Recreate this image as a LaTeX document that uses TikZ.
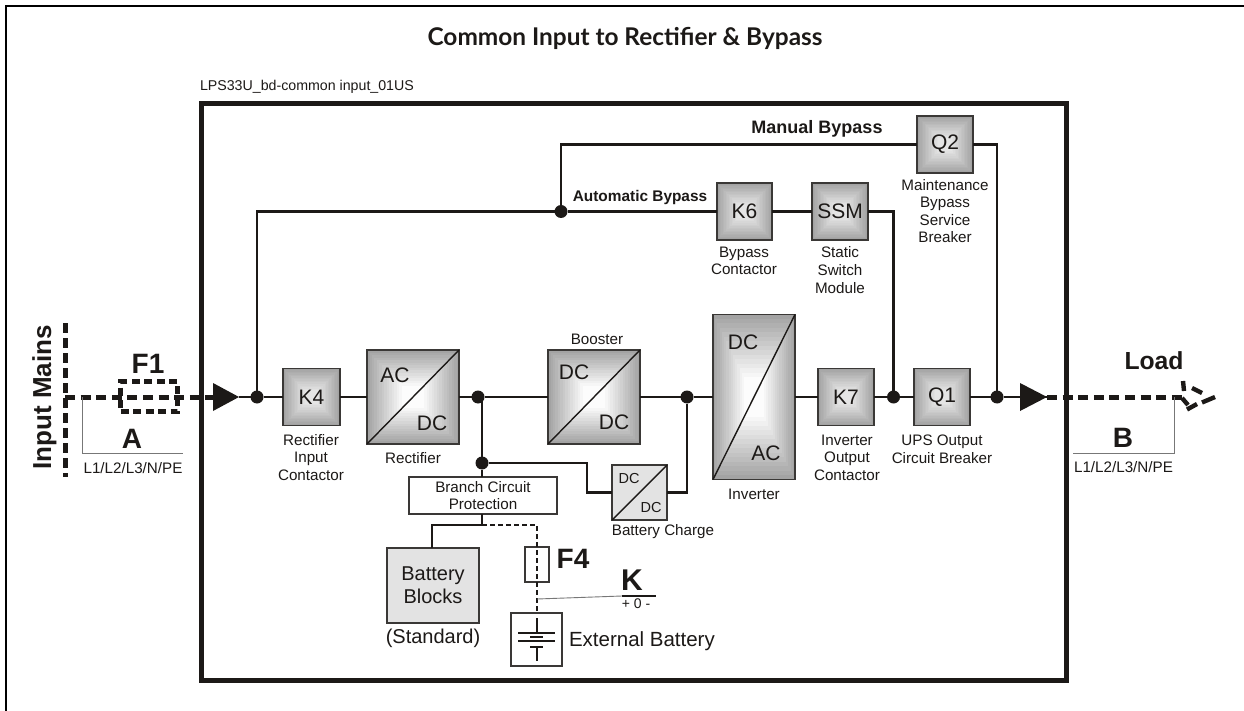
\documentclass[tikz,border=0pt]{standalone}
\usepackage{fontspec}
\setmainfont{Liberation Sans}
\newfontfamily\titlefont{Lato}
\usetikzlibrary{calc}
\definecolor{ink}{HTML}{1C1917}
\definecolor{edge}{HTML}{3A3836}
\definecolor{thin}{HTML}{777777}
\definecolor{gout}{gray}{0.64}
\definecolor{ginsoft}{gray}{0.90}
\definecolor{ginbright}{gray}{0.99}
\definecolor{plain}{gray}{0.89}
\newcommand{\fs}[2]{\fontsize{#1}{#2}\selectfont}
\tikzset{
  x=1pt, y=-1pt,
  every node/.style={text=ink, inner sep=0pt, outer sep=0pt},
  wire/.style={draw=ink, line width=2.7pt},
  heavy/.style={draw=ink, line width=5pt},
  heavydash/.style={draw=ink, line width=5pt, dash pattern=on 10pt off 5.6pt},
  feeddash/.style={draw=ink, line width=2.7pt, dash pattern=on 5pt off 3pt},
  thinline/.style={draw=thin, line width=0.9pt},
  jdot/.style={circle, fill=ink, minimum size=13pt},
  note/.style={align=center, font=\fs{15.2}{17.6}},
  boldlab/.style={font=\bfseries\fs{28}{30}},
  lines/.style={font=\fs{15.2}{17.6}},
  conv/.style={font=\fs{21}{24}},
  grad/.style n args={3}{draw=edge, line width=1.1pt, minimum width=#1, minimum height=#2,
    path picture={
      \foreach \gi in {0,...,14}{
        \pgfmathsetmacro\gf{\gi*0.38/14}
        \pgfmathsetmacro\gt{\gi*100/14}
        \fill[#3!\gt!gout]
          ($(path picture bounding box.south west)!\gf!(path picture bounding box.north east)$)
          rectangle
          ($(path picture bounding box.north east)!\gf!(path picture bounding box.south west)$);
      }
    }},
  flatbox/.style={draw=edge, line width=1.2pt, fill=white},
  pale/.style={draw=edge, line width=1.2pt, fill=plain},
}
\begin{document}
\begin{tikzpicture}
\useasboundingbox (0,0) rectangle (1244,711);
\fill[white] (0,0) rectangle (1244,711);

% outer frame: top and left only
\coordinate (fa) at (6,711);
\coordinate (fb) at (6,6);
\coordinate (fc) at (1244,6);
\draw[black, line width=2pt] (fa) -- (fb) -- (fc);

\node (title) at (625,38) {\titlefont\bfseries\fs{24.4}{27}Common Input to Rectifier \& Bypass};
\node[anchor=west, font=\fs{14.2}{16}] (code) at (200,87) {LPS33U\_bd-common input\_01US};

% cabinet
\node[draw=ink, line width=5pt, minimum width=864.5pt, minimum height=576pt] (cab) at (633.75,392) {};

% wire-level named points
\coordinate (tipL) at (239,397);
\coordinate (tipR) at (1047,397);
\node[jdot] (d1) at (257,397) {};
\node[jdot] (d2) at (478,397) {};
\node[jdot] (d3) at (482,463) {};
\node[jdot] (d4) at (687,397) {};
\node[jdot] (d5) at (893.5,397) {};
\node[jdot] (d6) at (997,397) {};
\node[jdot] (d7) at (561,211.5) {};

% blocks
\node[grad={57pt}{57pt}{ginsoft}, font=\fs{21}{24}] (k4) at (311.5,397) {K4};
\node[grad={92pt}{94pt}{ginbright}] (rect) at (413,397) {};
\node[grad={92pt}{94pt}{ginbright}] (boost) at (594,397) {};
\node[grad={82pt}{165pt}{ginbright}] (inv) at (754,397) {};
\node[grad={56pt}{57pt}{ginsoft}, font=\fs{21}{24}] (k7) at (846,397) {K7};
\node[grad={56pt}{57pt}{ginsoft}, font=\fs{21}{24}] (q1) at (942,397) {Q1};
\node[grad={55pt}{57pt}{ginsoft}, font=\fs{21}{24}] (k6) at (744.5,211.5) {K6};
\node[grad={56pt}{57pt}{ginsoft}, font=\fs{21}{24}] (ssm) at (840,211.5) {SSM};
\node[grad={56pt}{57pt}{ginsoft}, font=\fs{21}{24}] (q2) at (945,144.5) {Q2};
\node[pale, minimum width=55pt, minimum height=55pt] (chg) at (639.5,492.5) {};
\node[flatbox, minimum width=148pt, minimum height=37pt, note] (bcp) at (483,495.5) {Branch Circuit\\Protection};
\node[pale, minimum width=92pt, minimum height=75pt, align=center, font=\fs{20}{23}] (bat) at (433,585.5) {Battery\\Blocks};
\node[flatbox, minimum width=24pt, minimum height=35pt, fill=none] (f4) at (537,564.5) {};
\node[flatbox, minimum width=51pt, minimum height=53pt] (ext) at (536.5,639.5) {};

% diagonals
\draw[ink, line width=1.4pt] (rect.south west) -- (rect.north east);
\draw[ink, line width=1.4pt] (boost.south west) -- (boost.north east);
\draw[ink, line width=1.4pt] (inv.south west) -- (inv.north east);
\draw[ink, line width=1.4pt] (chg.south west) -- (chg.north east);

% converter texts
\node[conv] (t1) at (395,375) {AC};
\node[conv] (t2) at (432,423) {DC};
\node[conv] (t3) at (574,372) {DC};
\node[conv] (t4) at (614,422) {DC};
\node[conv] (t5) at (743,342) {DC};
\node[conv] (t6) at (766,453) {AC};
\node[font=\fs{14.5}{16}] (t7) at (629,479) {DC};
\node[font=\fs{14.5}{16}] (t8) at (651,508) {DC};

% solid wiring
\draw[wire] (tipL) -- (d1) -- (k4.west);
\draw[wire] (k4.east) -- (rect.west);
\draw[wire] (rect.east) -- (d2) -- (boost.west);
\draw[wire] (boost.east) -- (d4) -- (inv.west);
\draw[wire] (inv.east) -- (k7.west);
\draw[wire] (k7.east) -- (d5) -- (q1.west);
\draw[wire] (q1.east) -- (d6) -- (tipR);
\coordinate (j1) at (482,397);
\draw[wire] (j1) -- (d3) -- (d3 |- bcp.north);
\coordinate (j2) at (587,463);
\coordinate (j3) at (587,492.5);
\draw[wire] (d3) -- (j2) -- (j3) -- (chg.west);
\coordinate (j4) at (687,492.5);
\draw[wire] (chg.east) -- (j4) -- (d4);
\coordinate (j5) at (257,211.5);
\draw[wire] (d1) -- (j5) -- (d7) -- (k6.west);
\draw[wire] (k6.east) -- (ssm.west);
\coordinate (j6) at (893.5,211.5);
\draw[wire] (ssm.east) -- (j6) -- (d5);
\coordinate (j7) at (561,144.5);
\draw[wire] (d7) -- (j7) -- (q2.west);
\coordinate (j8) at (997,144.5);
\draw[wire] (q2.east) -- (j8) -- (d6);
\coordinate (j9) at (482,525);
\coordinate (j10) at (432,525);
\draw[wire] (bcp.south -| j9) -- (j9) -- (j10) -- (bat.north -| j10);
\coordinate (j11) at (537,525);
\draw[feeddash] (j9) -- (j11) -- (ext.north -| j11);

% input side
\coordinate (im1) at (65,323);
\coordinate (im2) at (65,477);
\coordinate (im0) at (65,397);
\draw[heavy, dash pattern=on 10pt off 5pt] (im1) -- (im2);
\draw[heavydash] (im0) -- (213,397);
\node[minimum width=57pt, minimum height=30pt, draw=ink, line width=4.4pt, dash pattern=on 8pt off 4.5pt, fill=none] (f1) at (149,396.5) {};
\fill[ink] (213,383) -- (tipL) -- (213,411) -- cycle;
\node[rotate=90, font=\bfseries\fs{26}{28}] (mains) at (44.5,397.5) {Input Mains};
\node[boldlab] (f1lab) at (148,364) {F1};
\node[boldlab] (alab) at (132,439) {A};
\coordinate (a1) at (82,397);
\coordinate (a2) at (82,453.5);
\coordinate (a3) at (183,453.5);
\draw[thinline] (a1) -- (a2) -- (a3);
\node[lines] (aphase) at (133,468) {L1/L2/L3/N/PE};

% output side
\fill[ink] (1020,383) -- (tipR) -- (1020,411) -- cycle;
\coordinate (o1) at (1047,397);
\coordinate (o2) at (1182,397);
\draw[heavydash] (o1) -- (o2);
\draw[ink, line width=4.4pt]
  (1183,381) -- (1184,391)
  (1192,388) -- (1202,393)
  (1215,397) -- (1202,402.5)
  (1197,404) -- (1187,409.5)
  (1182,398) -- (1188,405);
\node[font=\bfseries\fs{24.7}{27}] (load) at (1154,361) {Load};
\node[boldlab] (blab) at (1123,438) {B};
\coordinate (b1) at (1174,397);
\coordinate (b2) at (1174,453);
\coordinate (b3) at (1073,453);
\draw[thinline] (b1) -- (b2) -- (b3);
\node[lines] (bphase) at (1123.5,467) {L1/L2/L3/N/PE};

% bypass labels
\node[font=\bfseries\fs{18}{20}] (mb) at (817,129) {Manual Bypass};
\node[font=\bfseries\fs{15.4}{18}] (ab) at (640,198) {Automatic Bypass};

% captions
\node[note] (c1) at (311,457.5) {Rectifier\\Input\\Contactor};
\node[lines] (c2) at (413,458) {Rectifier};
\node[lines] (c3) at (597,339) {Booster};
\node[lines] (c4) at (754,494) {Inverter};
\node[note] (c5) at (847,457.5) {Inverter\\Output\\Contactor};
\node[note] (c6) at (942,449) {UPS Output\\Circuit Breaker};
\node[note] (c7) at (744,261) {Bypass\\Contactor};
\node[note] (c8) at (840,270) {Static\\Switch\\Module};
\node[note] (c9) at (945,211) {Maintenance\\Bypass\\Service\\Breaker};
\node[lines] (c10) at (663,532) {Battery Charge};
\node[font=\fs{20}{23}] (std) at (433,638) {(Standard)};
\node[anchor=west, font=\fs{20.5}{23}] (extlab) at (569,641) {External Battery};
\node[font=\bfseries\fs{28}{30}] (f4lab) at (573,559) {F4};

% K meter
\node[font=\bfseries\fs{30}{32}] (klab) at (632,580) {K};
\coordinate (k1) at (537,599);
\coordinate (k2) at (622,596);
\coordinate (k3) at (656,596);
\draw[thinline] (k1) -- (k2);
\draw[ink, line width=1.4pt] (k2) -- (k3);
\node[font=\fs{14}{16}] (kscale) at (636,604) {+ 0 -};

% battery symbol
\coordinate (s1) at (537,618);
\coordinate (s2) at (537,633);
\coordinate (s3) at (537,647);
\coordinate (s4) at (537,661);
\draw[ink, line width=1.6pt] (s1) -- (s2);
\draw[ink, line width=1.6pt] (s3) -- (s4);
\draw[ink, line width=2pt] (518,633) -- (555,633);
\draw[ink, line width=2pt] (530,637) -- (543,637);
\draw[ink, line width=2pt] (518,641) -- (555,641);
\draw[ink, line width=2pt] (530,647) -- (543,647);
\end{tikzpicture}
\end{document}
